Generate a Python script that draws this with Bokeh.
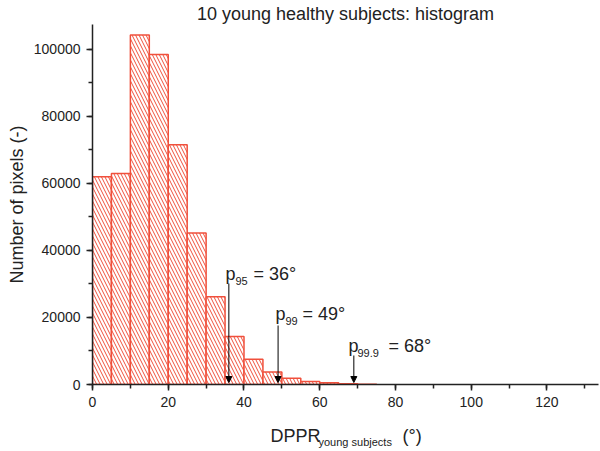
import numpy as np
from bokeh.plotting import figure
from bokeh.layouts import column
from bokeh.models import (Label, Arrow, NormalHead, SingleIntervalTicker,
                          BasicTickFormatter, Range1d, ColumnDataSource)
from bokeh.embed import file_html
from bokeh.resources import INLINE

# ---- data ----
bin_left = [0, 5, 10, 15, 20, 25, 30, 35, 40, 45, 50, 55, 60, 65, 70]
bin_width = 5
counts = [62000, 63000, 104300, 98500, 71600, 45200, 26200, 14300,
          7500, 3700, 1900, 900, 500, 200, 100]
pct_names = ["95", "99", "99.9"]
pct_values = [36, 49, 68]
arrow_x = [36, 49, 69]
title_text = "10 young healthy subjects: histogram"
y_label_text = "Number of pixels (-)"
x_label_main = "DPPR"
x_label_sub = "young subjects"
x_label_unit = "(°)"

# ---- layout ----
W = 600
H1 = 418                 # main figure height
H2 = 451 - H1            # x-label strip height
FL, FR, FT, FB = 92, 598, 24, 384      # frame edges in px
X_END = 133.6
Y_END = (FB - FT) * 298.5

def dx(px):  # px -> data x
    return (px - FL) / (FR - FL) * X_END

def dy(py):  # px -> data y
    return (FB - py) / (FB - FT) * Y_END

FONT = "Liberation Sans"
RED = "#f0503c"
INK = "#222222"

p = figure(width=W, height=H1, output_backend="svg", toolbar_location=None,
           x_range=Range1d(0, X_END), y_range=Range1d(0, Y_END),
           min_border_left=FL, min_border_right=W - FR, min_border_top=FT,
           min_border_bottom=H1 - FB)
p.outline_line_color = None
p.xgrid.visible = False
p.ygrid.visible = False
p.background_fill_color = "white"
p.border_fill_color = "white"

p.title.text = title_text
p.title.align = "center"
p.title.text_font = FONT
p.title.text_font_size = "18px"
p.title.text_font_style = "normal"
p.title.text_color = INK
p.title.standoff = 2
p.title.offset = -3

src = ColumnDataSource(dict(
    left=bin_left,
    right=[b + bin_width for b in bin_left],
    top=counts,
))
p.quad(left="left", right="right", bottom=0, top="top", source=src,
       fill_color="white", line_color=RED, line_width=1.5,
       hatch_pattern="\\", hatch_color=RED, hatch_scale=7, hatch_weight=1)

for ax, tick in ((p.xaxis[0], SingleIntervalTicker(interval=20, num_minor_ticks=2)),
                 (p.yaxis[0], SingleIntervalTicker(interval=20000, num_minor_ticks=2))):
    ax.ticker = tick
    ax.axis_line_color = INK
    ax.axis_line_width = 1.5
    ax.major_tick_line_color = INK
    ax.major_tick_line_width = 1.5
    ax.minor_tick_line_color = INK
    ax.minor_tick_line_width = 1.5
    ax.major_tick_out = 6
    ax.major_tick_in = 0
    ax.minor_tick_out = 4
    ax.minor_tick_in = 0
    ax.major_label_text_font = FONT
    ax.major_label_text_font_size = "14px"
    ax.major_label_text_color = INK
    ax.major_label_standoff = 6
p.yaxis[0].formatter = BasicTickFormatter(use_scientific=False)
p.yaxis[0].axis_label = y_label_text
p.yaxis[0].axis_label_text_font = FONT
p.yaxis[0].axis_label_text_font_size = "18px"
p.yaxis[0].axis_label_text_font_style = "normal"
p.yaxis[0].axis_label_text_color = INK
p.yaxis[0].axis_label_standoff = 4

def lab(fig, text, x, y, size=18, align="left", baseline="alphabetic"):
    fig.add_layout(Label(x=x, y=y, text=text, text_font=FONT,
                         text_font_size=f"{size}px", text_color=INK,
                         text_align=align, text_baseline=baseline))

# percentile annotations
text_pos = [(225, 273), (275, 313), (348, 345)]
sub_dx = [10, 10, 9]
eq_x = [253, 302, 388]
arrow_top = [283, 325, 355]
for name, val, ax_, (tx, ty), sdx, ex, at in zip(pct_names, pct_values, arrow_x,
                                                  text_pos, sub_dx, eq_x, arrow_top):
    lab(p, "p", dx(tx), dy(ty))
    lab(p, name, dx(tx + sdx), dy(ty + 7), size=11)
    lab(p, f"= {val}°", dx(ex), dy(ty))
    p.add_layout(Arrow(end=NormalHead(size=6, fill_color="black", line_color="black",
                                      line_width=1),
                       x_start=ax_, y_start=dy(at), x_end=ax_, y_end=dy(382),
                       line_color="black", line_width=1))

# x-axis label strip (pixel coordinates; its frame is aligned with the main frame)
q = figure(width=W, height=H2, output_backend="svg", toolbar_location=None,
           x_range=Range1d(FL, FR), y_range=Range1d(451, H1),
           min_border=0, min_border_left=FL, min_border_right=W - FR,
           min_border_top=0, min_border_bottom=0)
q.axis.visible = False
q.grid.visible = False
q.outline_line_color = None
q.background_fill_color = "white"
q.border_fill_color = "white"
lab(q, x_label_main, 270, 435)
lab(q, x_label_sub, 318, 441, size=11)
lab(q, x_label_unit, 402, 435)

layout = column(p, q, spacing=0)
open("out.html", "w").write(file_html(layout, INLINE))
